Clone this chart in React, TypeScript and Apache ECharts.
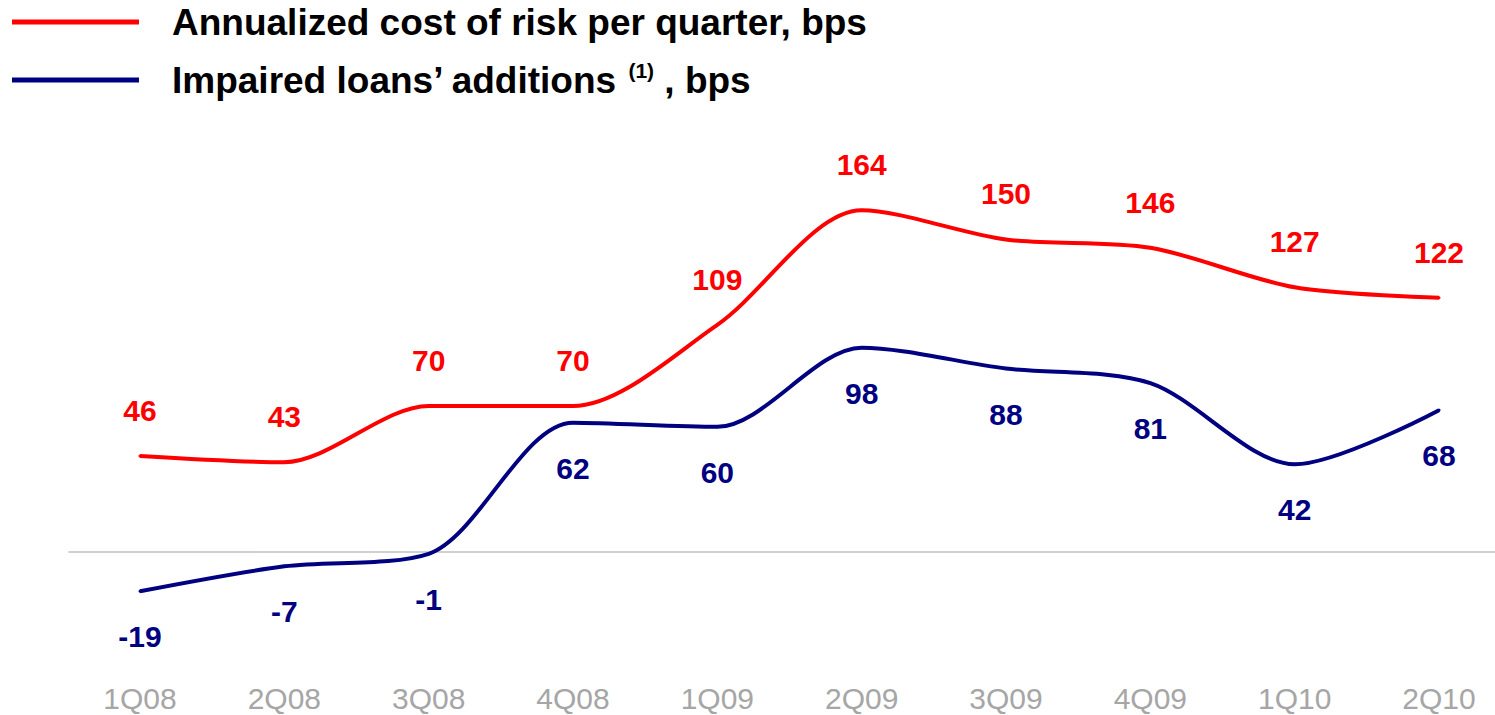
import React, { useEffect, useRef } from "react";
import * as echarts from "echarts";

const categories = ["1Q08", "2Q08", "3Q08", "4Q08", "1Q09", "2Q09", "3Q09", "4Q09", "1Q10", "2Q10"];
const costOfRisk = [46, 43, 70, 70, 109, 164, 150, 146, 127, 122];
const impairedAdditions = [-19, -7, -1, 62, 60, 98, 88, 81, 42, 68];
const seriesNames = ["Annualized cost of risk per quarter, bps", "Impaired loans’ additions (1), bps"];

const FONT = 'Arial, "Liberation Sans", Helvetica, sans-serif';
const RED = "#ff0000";
const NAVY = "#000080";

export default function App() {
  const ref = useRef<HTMLDivElement>(null);
  useEffect(() => {
    if (!ref.current) return;
    const chart = echarts.init(ref.current, undefined, { renderer: "svg" });
    const labelBase = { show: true, fontSize: 30, fontWeight: "bold", fontFamily: FONT, lineHeight: 30, distance: 29 };
    chart.setOption({
      animation: false,
      backgroundColor: "#ffffff",
      legend: {
        orient: "vertical",
        left: 12,
        top: 2,
        padding: 0,
        itemWidth: 127,
        itemHeight: 5,
        itemGap: 18,
        icon: "rect",
        selectedMode: false,
        data: seriesNames,
        formatter: (name: string) => {
          if (name === seriesNames[0]) return "{t|" + name + "}";
          return "{t|Impaired loans’ additions }{s|(1)}{u| , bps}";
        },
        textStyle: {
          fontFamily: FONT,
          fontSize: 37,
          fontWeight: "bold",
          color: "#000",
          lineHeight: 40,
          rich: {
            t: { fontFamily: FONT, fontSize: 37, fontWeight: "bold", color: "#000", lineHeight: 40, padding: [0, 0, 0, 28] },
            s: { fontFamily: FONT, fontSize: 21, fontWeight: "bold", color: "#000", lineHeight: 21, verticalAlign: "top" },
            u: { fontFamily: FONT, fontSize: 37, fontWeight: "bold", color: "#000", lineHeight: 40 },
          },
        },
      },
      grid: [
        { left: 140, right: 56, top: 177, bottom: 80 },
        { left: 69, right: 0, top: 177, bottom: 80 },
      ],
      xAxis: [
        {
          type: "category",
          gridIndex: 0,
          data: categories,
          boundaryGap: false,
          axisLine: { show: false, onZero: false },
          axisTick: { show: false },
          axisLabel: { fontFamily: FONT, fontSize: 30, color: "#a6a6a6", margin: 48, lineHeight: 30, interval: 0 },
          splitLine: { show: false },
        },
        {
          type: "value",
          gridIndex: 1,
          min: 0,
          max: 1,
          axisLine: { show: true, onZero: true, lineStyle: { color: "#c0c0c0", width: 1.5 } },
          axisTick: { show: false },
          axisLabel: { show: false },
          splitLine: { show: false },
        },
      ],
      yAxis: [
        { type: "value", gridIndex: 0, min: -40, max: 180, show: false, splitLine: { show: false } },
        { type: "value", gridIndex: 1, min: -40, max: 180, show: false, splitLine: { show: false } },
      ],
      series: [
        {
          name: seriesNames[0],
          type: "line",
          xAxisIndex: 0,
          yAxisIndex: 0,
          data: costOfRisk,
          smooth: 0.3,
          symbol: "circle",
          symbolSize: 3,
          itemStyle: { color: RED },
          lineStyle: { color: RED, width: 4 },
          label: { ...labelBase, position: "top", color: RED },
        },
        {
          name: seriesNames[1],
          type: "line",
          xAxisIndex: 0,
          yAxisIndex: 0,
          data: impairedAdditions,
          smooth: 0.3,
          symbol: "circle",
          symbolSize: 3,
          itemStyle: { color: NAVY },
          lineStyle: { color: NAVY, width: 4 },
          label: { ...labelBase, position: "bottom", color: NAVY },
        },
      ],
    });
    return () => chart.dispose();
  }, []);
  return <div ref={ref} style={{ position: "fixed", left: 0, top: 0, width: 1495, height: 715 }} />;
}
